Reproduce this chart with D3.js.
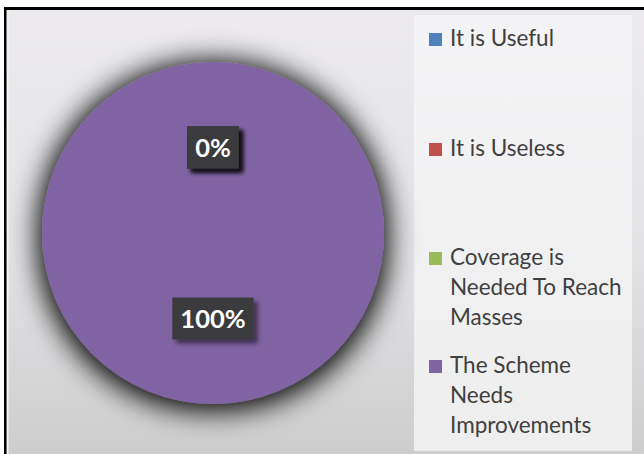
<!DOCTYPE html>
<html><head><meta charset="utf-8">
<script src="https://cdn.jsdelivr.net/npm/d3@7"></script>
<style>html,body{margin:0;padding:0;background:#fff;}svg{display:block;}</style>
</head><body>
<script>
const categories = ["It is Useful", "It is Useless", "Coverage is Needed To Reach Masses", "The Scheme Needs Improvements"];
const legendLines = [["It is Useful"], ["It is Useless"], ["Coverage is", "Needed To Reach", "Masses"], ["The Scheme", "Needs", "Improvements"]];
const values = [0, 0, 0, 100];
const colors = ["#4f81bd", "#c0504d", "#9bbb59", "#8064a2"];

const W = 644, H = 454;
const svg = d3.select("body").append("svg").attr("width", W).attr("height", H);
const defs = svg.append("defs");

const bg = defs.append("linearGradient").attr("id", "bg").attr("x1", 0).attr("y1", 0).attr("x2", 0).attr("y2", 1);
bg.append("stop").attr("offset", "0%").attr("stop-color", "#eceaee");
bg.append("stop").attr("offset", "55%").attr("stop-color", "#e3e2e5");
bg.append("stop").attr("offset", "100%").attr("stop-color", "#cdcdce");

const lg = defs.append("linearGradient").attr("id", "lg").attr("x1", 0).attr("y1", 0).attr("x2", 0).attr("y2", 1);
lg.append("stop").attr("offset", "0%").attr("stop-color", "#f4f3f5");
lg.append("stop").attr("offset", "100%").attr("stop-color", "#eeeeef");

const sh = defs.append("filter").attr("id", "shadow").attr("x", "-40%").attr("y", "-40%").attr("width", "180%").attr("height", "180%");
sh.append("feMorphology").attr("in", "SourceAlpha").attr("operator", "dilate").attr("radius", 4).attr("result", "d");
sh.append("feGaussianBlur").attr("in", "d").attr("stdDeviation", 14).attr("result", "b");
sh.append("feOffset").attr("in", "b").attr("dx", 0).attr("dy", 3).attr("result", "o");
sh.append("feComponentTransfer").attr("in", "o").attr("result", "s")
  .append("feFuncA").attr("type", "linear").attr("slope", 1.0);
const m = sh.append("feMerge");
m.append("feMergeNode").attr("in", "s");
m.append("feMergeNode").attr("in", "SourceGraphic");

const bs = defs.append("filter").attr("id", "bshadow").attr("x", "-30%").attr("y", "-30%").attr("width", "160%").attr("height", "160%");
bs.append("feGaussianBlur").attr("in", "SourceAlpha").attr("stdDeviation", 2).attr("result", "b");
bs.append("feOffset").attr("in", "b").attr("dx", 4).attr("dy", 4).attr("result", "o");
bs.append("feComponentTransfer").attr("in", "o").attr("result", "s")
  .append("feFuncA").attr("type", "linear").attr("slope", 0.5);
const m2 = bs.append("feMerge");
m2.append("feMergeNode").attr("in", "s");
m2.append("feMergeNode").attr("in", "SourceGraphic");

// background & frame
svg.append("rect").attr("x", 0).attr("y", 0).attr("width", W).attr("height", H).attr("fill", "#ffffff");
svg.append("rect").attr("x", 6).attr("y", 10).attr("width", W - 6).attr("height", H - 10).attr("fill", "url(#bg)");
svg.append("rect").attr("x", 4).attr("y", 7).attr("width", W - 4).attr("height", 3).attr("fill", "#000");
svg.append("rect").attr("x", 4).attr("y", 7).attr("width", 2.5).attr("height", H - 7).attr("fill", "#000");
svg.append("rect").attr("x", 7).attr("y", 11).attr("width", 1.5).attr("height", H - 11).attr("fill", "#f6f6f6");

// legend panel
svg.append("rect").attr("x", 414).attr("y", 15).attr("width", 218).attr("height", 436).attr("fill", "url(#lg)");

// pie
const cx = 213, cy = 233, r = 171;
const pie = d3.pie().sort(null).value(d => d)(values);
const arc = d3.arc().innerRadius(0).outerRadius(r);
const labelArc = d3.arc().innerRadius(r * 0.5).outerRadius(r * 0.5);
const g = svg.append("g").attr("transform", `translate(${cx},${cy})`).attr("filter", "url(#shadow)");
g.selectAll("path").data(pie).join("path")
  .attr("d", arc).attr("fill", (d, i) => colors[i]);

const fmt = d3.format(".0%");
const total = d3.sum(values);
const lab = svg.append("g").attr("transform", `translate(${cx},${cy})`);
pie.forEach((d, i) => {
  const [lx, ly] = labelArc.centroid(d);
  const txt = fmt(d.data / total);
  const gg = lab.append("g").attr("transform", `translate(${lx},${ly})`);
  const t = gg.append("text").attr("text-anchor", "middle").attr("dy", "0.36em")
    .attr("font-family", "Lato, 'Open Sans', sans-serif").attr("font-weight", "bold")
    .attr("font-size", 25.5).attr("fill", "#ffffff").text(txt);
  const bb = t.node().getBBox();
  gg.insert("rect", "text").attr("x", bb.x - 8).attr("y", -21).attr("width", bb.width + 16).attr("height", 42)
    .attr("fill", "#3b3a3c").attr("filter", "url(#bshadow)");
});

// legend
const leg = svg.append("g");
let y0 = [46, 156, 265, 373];
legendLines.forEach((lines, i) => {
  leg.append("rect").attr("x", 429).attr("y", y0[i] - 13).attr("width", 13).attr("height", 13).attr("fill", colors[i]);
  const t = leg.append("text").attr("x", 450).attr("y", y0[i])
    .attr("font-family", "Lato, 'Open Sans', sans-serif").attr("font-size", 22.5).attr("fill", "#3f3f3f");
  lines.forEach((l, j) => t.append("tspan").attr("x", 450).attr("dy", j === 0 ? 0 : 30).text(l));
});
</script>
</body></html>
